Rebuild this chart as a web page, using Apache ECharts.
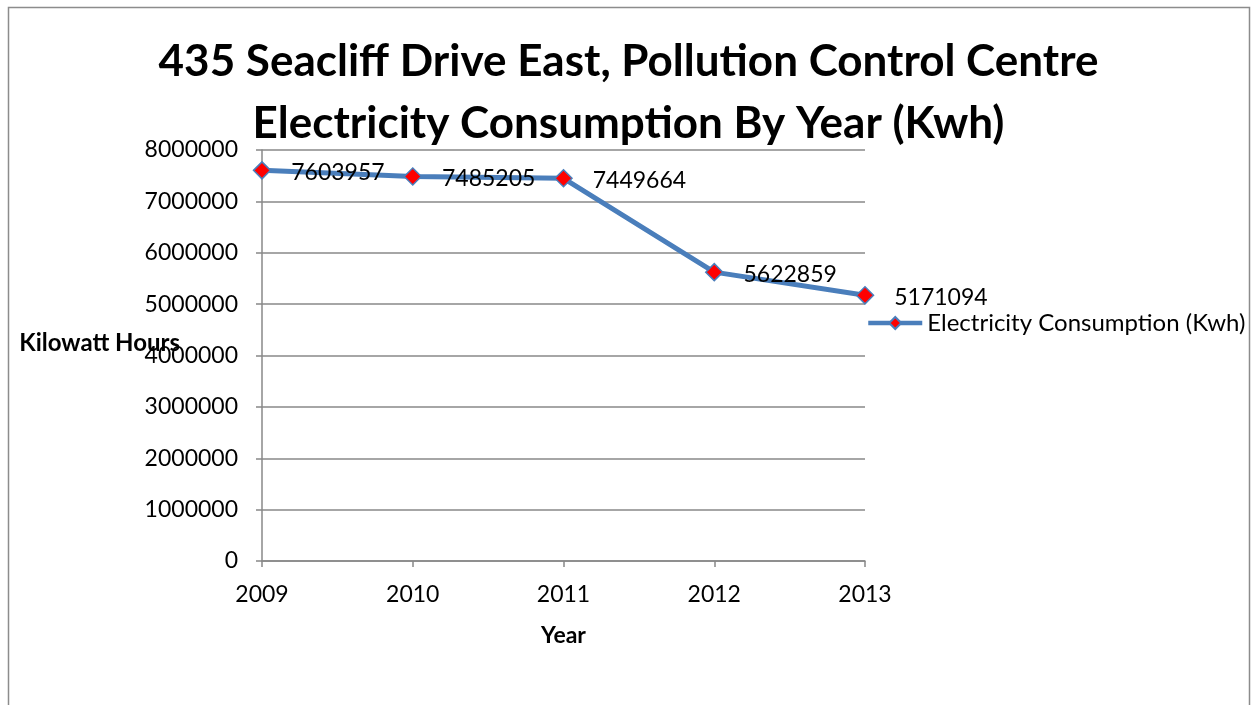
<!DOCTYPE html>
<html>
<head>
<meta charset="utf-8">
<script src="https://cdn.jsdelivr.net/npm/echarts@6/dist/echarts.min.js"></script>
<style>
  html, body { margin: 0; padding: 0; background: #fff; }
  #chart { width: 1257px; height: 705px; }
</style>
</head>
<body>
<div id="chart"></div>
<script>
// Yearly electricity use at the pollution control centre
const years = ['2009', '2010', '2011', '2012', '2013'];
const consumption = [7603957, 7485205, 7449664, 5622859, 5171094];
const seriesName = 'Electricity Consumption (Kwh)';
const titleLines = ['435 Seacliff Drive East, Pollution Control Centre', 'Electricity Consumption By Year (Kwh)'];

const FONT = 'Lato, "Open Sans", sans-serif';
const chart = echarts.init(document.getElementById('chart'), null, { renderer: 'canvas' });

chart.setOption({
  backgroundColor: '#fff',
  animation: false,
  textStyle: { fontFamily: FONT, color: '#000' },
  graphic: [{
    type: 'rect',
    shape: { x: 8.5, y: 7.5, width: 1241, height: 720 },
    style: { fill: 'none', stroke: '#8c8c8c', lineWidth: 1.5 },
    silent: true
  }],
  title: {
    text: titleLines.join('\n'),
    left: 'center',
    top: 26,
    textStyle: { fontFamily: FONT, fontSize: 44, fontWeight: 'bold', color: '#000', lineHeight: 62 }
  },
  legend: {
    left: 866,
    top: 311,
    padding: 0,
    itemWidth: 54,
    itemHeight: 15,
    itemGap: 4,
    textStyle: { fontFamily: FONT, fontSize: 24, color: '#000' },
    lineStyle: { width: 4.5, color: '#4a7ebb' },
    data: [seriesName]
  },
  grid: { left: 262, right: 392, top: 150, bottom: 144, containLabel: false, outerBoundsMode: 'none' },
  xAxis: {
    type: 'category',
    data: years,
    boundaryGap: false,
    name: 'Year',
    nameLocation: 'middle',
    nameGap: 63,
    nameTextStyle: { fontFamily: FONT, fontSize: 23, fontWeight: 'bold', color: '#000' },
    axisLine: { lineStyle: { color: '#888', width: 1.5 } },
    axisTick: { alignWithLabel: true, length: 6, lineStyle: { color: '#888', width: 1.5 } },
    axisLabel: { fontFamily: FONT, fontSize: 23, color: '#000', margin: 22 },
    splitLine: { show: false }
  },
  yAxis: {
    type: 'value',
    min: 0,
    max: 8000000,
    interval: 1000000,
    name: 'Kilowatt Hours',
    nameLocation: 'middle',
    nameRotate: 0,
    nameGap: 82,
    nameMoveOverlap: false,
    nameTextStyle: { fontFamily: FONT, fontSize: 24, fontWeight: 'bold', color: '#000', align: 'right', verticalAlign: 'bottom' },
    axisLine: { show: true, lineStyle: { color: '#888', width: 1.5 } },
    axisTick: { show: true, length: 6, lineStyle: { color: '#888', width: 1.5 } },
    axisLabel: { fontFamily: FONT, fontSize: 23, color: '#000', margin: 24, formatter: v => String(v) },
    splitLine: { lineStyle: { color: '#888', width: 1.5 } }
  },
  series: [{
    name: seriesName,
    type: 'line',
    data: consumption,
    symbol: 'diamond',
    symbolSize: 17,
    lineStyle: { color: '#4a7ebb', width: 5 },
    itemStyle: { color: '#ff0000', borderColor: '#4a7ebb', borderWidth: 1.5 },
    label: {
      show: true,
      position: 'right',
      distance: 20,
      fontFamily: FONT,
      fontSize: 23,
      color: '#000',
      offset: [0, 2]
    }
  }]
});
</script>
</body>
</html>
